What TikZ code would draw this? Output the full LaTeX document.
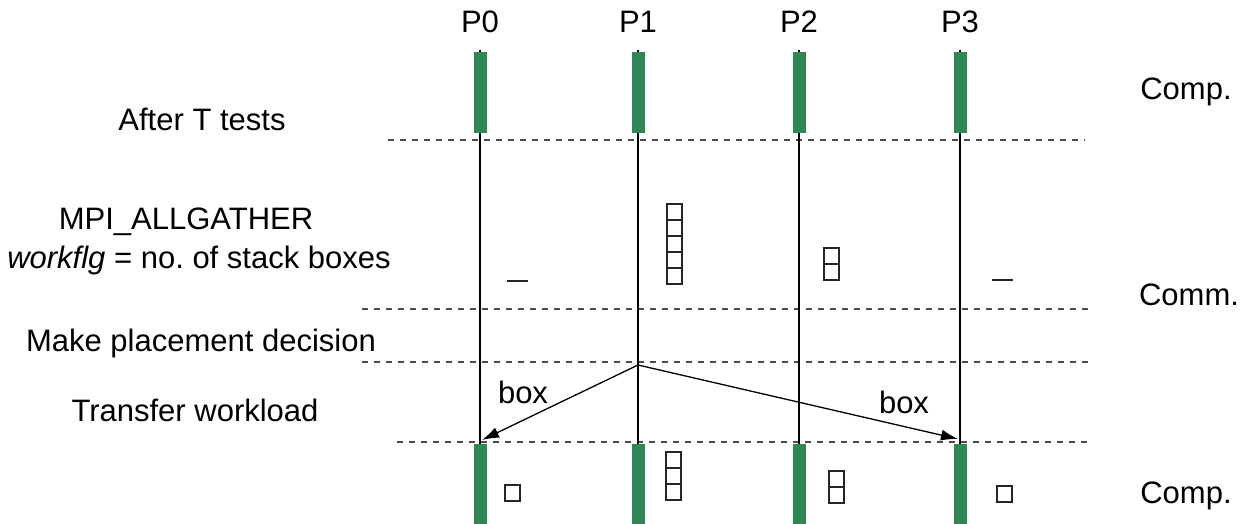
\documentclass[tikz,border=0pt]{standalone}
\usepackage{fontspec}
\setmainfont{Liberation Sans}
\usepackage{xcolor}
\usetikzlibrary{arrows.meta}

\definecolor{bargreen}{RGB}{46,136,86}

\tikzset{
	phase/.style={dash pattern=on 6pt off 6pt, line width=1.2pt, black!70},
	proc/.style={line width=2pt},
	compbar/.style={fill=bargreen, draw=none},
	cell/.style={draw=black!85, line width=1.6pt},
	txt/.style={font=\fontsize{31}{37}\selectfont, inner sep=0pt},
	send/.style={line width=1.3pt, -{Latex[length=17pt,width=11pt]}}
}

% a column of n empty cells, top left corner at (#1,#2)
\newcommand{\cellstack}[3]{%
	\foreach \k in {1,...,#3}
		\draw[cell] (#1,{#2+(\k-1)*16}) rectangle ++(15,16);
}

\frenchspacing

\begin{document}
\begin{tikzpicture}[x=1pt,y=-1pt]
	\useasboundingbox (0,0) rectangle (1245,524);

	% phase boundaries
	\draw[phase] (388,140) -- (1085,140);
	\draw[phase] (362,309) -- (1090,309);
	\draw[phase] (362,362) -- (1090,362);
	\draw[phase] (397,442) -- (1092,442);

	% processes
	\foreach \x/\n in {480/0, 638/1, 799/2, 960/3} {
		\node[txt] (p\n) at (\x,22) {P\n};
		\draw[proc] (\x,50) -- (\x,524);
		\fill[compbar] (\x-6.5,52) rectangle (\x+6.5,133);
		\fill[compbar] (\x-6.5,444) rectangle (\x+6.5,524);
	}

	% phase labels
	\node[txt] (after) at (202,119) {After T tests};
	\node[txt] (gather) at (186,222) {MPI\_ALLGATHER};
	\node[txt] (workflg) at (199,260) {\textit{workflg} = no. of stack boxes};
	\node[txt] (decide) at (201,343) {Make placement decision};
	\node[txt] (transfer) at (195,410) {Transfer workload};

	\node[txt] (comp1) at (1186,92) {Comp.};
	\node[txt] (comm) at (1189,295) {Comm.};
	\node[txt] (comp2) at (1186,496) {Comp.};

	% stack boxes before the exchange
	\draw[cell] (507,281) -- (528,281);
	\cellstack{667}{204}{5}
	\cellstack{824}{248}{2}
	\draw[cell] (992,280) -- (1013,280);

	% workload transfer
	\coordinate (src) at (638,365);
	\coordinate (dst0) at (482,440);
	\coordinate (dst3) at (958,439);
	\draw[send] (src) -- (dst0);
	\draw[send] (src) -- (dst3);
	\node[txt] (box0) at (523,392) {box};
	\node[txt] (box3) at (904,402) {box};

	% stack boxes after the exchange
	\cellstack{505}{485}{1}
	\cellstack{666}{452}{3}
	\cellstack{829}{471}{2}
	\cellstack{997}{486}{1}
\end{tikzpicture}
\end{document}
